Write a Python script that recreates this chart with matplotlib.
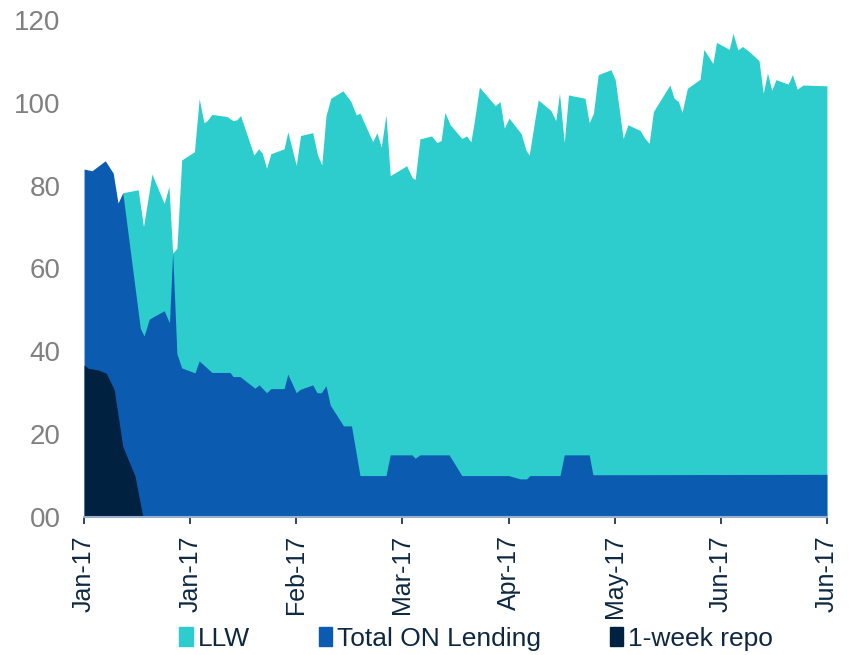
import matplotlib
matplotlib.use("Agg")
import matplotlib.pyplot as plt
from matplotlib.patches import Patch

# ── data (x = position along the date axis, 0..140; 8 labels evenly spaced) ──
tick_labels = ["Jan-17", "Jan-17", "Feb-17", "Mar-17", "Apr-17",
               "May-17", "Jun-17", "Jun-17"]

llw_x = [7.3, 10.2, 11.2, 12.8, 15.1, 16.0, 16.7, 17.5, 18.4, 20.8, 21.7,
         22.6, 23.2, 24.1, 26.9, 28.1, 28.8, 29.5, 32.0, 32.9, 33.6, 34.4,
         35.2, 37.7, 38.4, 40.0, 40.8, 43.1, 44.0, 44.8, 45.6, 46.5, 48.8,
         50.3, 51.3, 52.0, 54.4, 55.2, 56.0, 56.9, 57.7, 60.8, 61.8, 62.4,
         63.3, 65.5, 66.5, 67.3, 68.0, 69.0, 71.2, 72.1, 72.9, 73.5, 74.5,
         77.5, 78.4, 79.2, 80.1, 82.4, 83.3, 83.9, 85.0, 85.6, 88.0, 88.9,
         89.6, 90.5, 91.3, 94.4, 95.2, 96.0, 96.9, 99.3, 100.1, 101.6, 102.5,
         104.8, 105.7, 106.5, 107.3, 110.4, 111.2, 112.0, 112.7, 113.7, 116.1,
         116.8, 118.5, 119.2, 121.6, 122.3, 123.2, 124.1, 125.5, 127.2, 128.0,
         128.8, 129.6, 130.4, 132.7, 133.5, 134.4, 135.5, 140.0]
llw = [78.3, 79.0, 70.1, 82.8, 75.7, 79.8, 63.7, 64.9, 86.2, 88.2, 101.0,
       95.2, 95.7, 97.2, 96.7, 95.7, 95.9, 96.9, 87.4, 88.9, 87.8, 84.2,
       87.7, 88.9, 93.0, 84.9, 92.1, 92.8, 87.4, 85.0, 96.9, 101.1, 102.9,
       100.3, 97.1, 97.5, 90.6, 92.8, 89.3, 97.1, 82.4, 84.8, 82.0, 81.5,
       91.3, 92.0, 90.4, 90.9, 97.7, 94.7, 91.4, 92.0, 90.6, 95.1, 103.8,
       99.3, 100.3, 93.9, 96.3, 92.5, 88.5, 87.4, 96.3, 100.7, 98.1, 95.7,
       102.3, 90.4, 101.9, 101.1, 95.2, 97.5, 106.8, 108.0, 105.6, 91.4, 94.7,
       93.3, 91.4, 90.2, 97.9, 104.3, 101.1, 100.3, 97.7, 103.5, 105.7,
       112.9, 109.5, 114.6, 112.9, 116.8, 112.8, 113.6, 112.2, 110.2, 102.3,
       107.2, 103.0, 105.6, 104.5, 106.8, 103.3, 104.3, 104.1]

on_x = [0.0, 1.5, 4.0, 5.5, 6.4, 7.3, 10.6, 11.3, 12.3, 13.7, 15.1, 16.1,
        16.7, 17.5, 18.4, 20.9, 21.7, 24.1, 27.5, 28.1, 29.4, 32.2, 33.0,
        34.4, 35.2, 37.7, 38.4, 40.0, 40.7, 43.1, 43.9, 44.7, 45.6, 46.4,
        48.9, 50.4, 52.0, 56.9, 57.7, 61.8, 62.4, 63.3, 68.8, 71.2, 80.0,
        82.2, 83.4, 84.0, 89.7, 90.5, 95.2, 95.9, 140.0]
on_lending = [84.0, 83.6, 86.0, 83.0, 75.8, 78.3, 45.6, 43.7, 47.8, 48.8,
              49.8, 46.9, 64.0, 39.4, 36.0, 34.8, 37.7, 34.9, 34.9, 33.9,
              33.9, 31.1, 31.9, 30.0, 31.0, 31.0, 34.5, 30.0, 30.8, 31.9,
              30.0, 30.0, 31.7, 27.0, 22.0, 22.0, 10.0, 10.0, 15.0, 15.0,
              14.2, 15.0, 15.0, 10.0, 10.0, 9.2, 9.2, 10.0, 10.0, 15.0, 15.0,
              10.2, 10.3]

repo_x = [0.0, 0.8, 2.7, 4.2, 5.7, 7.3, 9.6, 11.1]
repo = [36.7, 35.9, 35.5, 34.7, 30.7, 17.0, 9.9, 0.0]

C_LLW = "#2ECDCD"
C_ON = "#0B5CB0"
C_REPO = "#00213F"
C_TEXT = "#0E2841"

plt.rcParams["font.family"] = ["Liberation Sans", "DejaVu Sans"]

fig = plt.figure(figsize=(8.49, 6.55), dpi=100)
ax = fig.add_axes([0.099, 0.2107, 0.875, 0.7588])

ax.fill_between(llw_x, 0, llw, color=C_LLW, linewidth=0)
ax.fill_between(on_x, 0, on_lending, color=C_ON, linewidth=0)
ax.fill_between(repo_x, 0, repo, color=C_REPO, linewidth=0)

ax.set_xlim(0, 140)
ax.set_ylim(0, 120)
ax.set_xticks(range(0, 141, 20))
ax.set_xticklabels(tick_labels, rotation=90, color=C_TEXT, fontsize=18)
ax.set_yticks(range(0, 121, 20))
ax.set_yticklabels(["00"] + [str(v) for v in range(20, 121, 20)],
                   color="#808080", fontsize=20)
ax.tick_params(axis="y", length=0, pad=17)
ax.tick_params(axis="x", length=5, width=1.2, color=C_TEXT, pad=8)

for s in ("top", "right", "left"):
    ax.spines[s].set_visible(False)
ax.spines["bottom"].set_color("#9AAED0")
ax.spines["bottom"].set_linewidth(1.5)

handles = [Patch(color=C_LLW), Patch(color=C_ON), Patch(color=C_REPO)]
fig.legend(handles, ["LLW", "Total ON Lending", "1-week repo"],
           loc="center", bbox_to_anchor=(0.561, 0.025), ncol=3,
           frameon=False, fontsize=19, labelcolor=C_TEXT,
           handlelength=0.5, handleheight=0.75, handletextpad=0.2,
           columnspacing=2.6)

fig.savefig("out.png", dpi=100)
